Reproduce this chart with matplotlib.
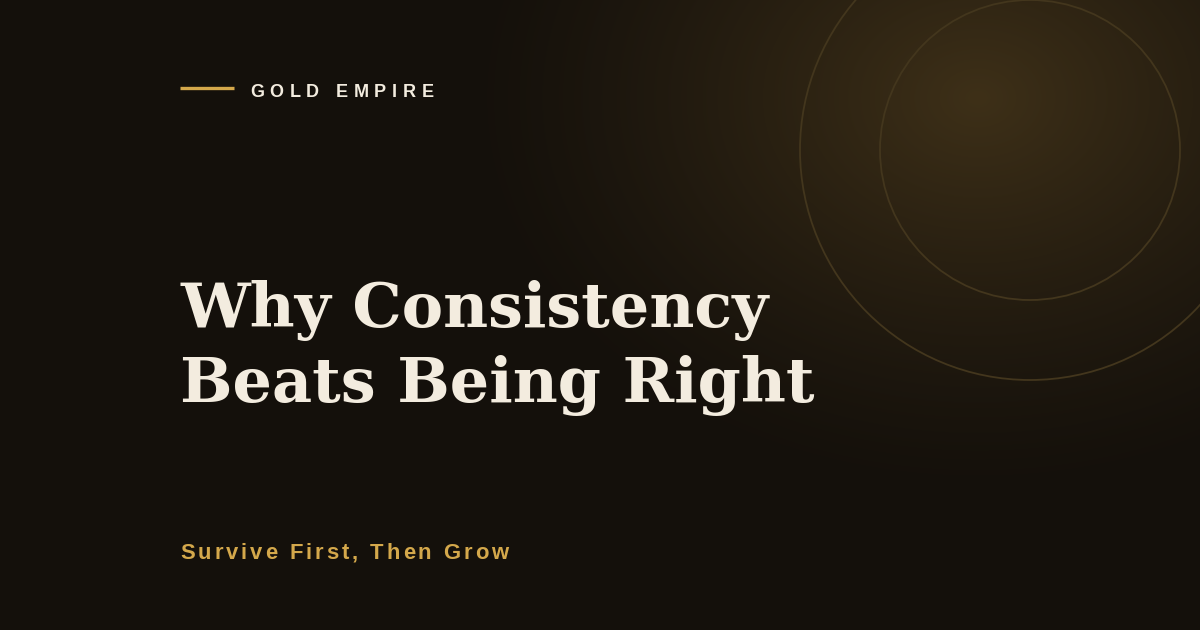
import numpy as np
import matplotlib
matplotlib.use("Agg")
import matplotlib.pyplot as plt
from matplotlib.patches import Circle

# ---- content ----
brand = "GOLD EMPIRE"
title_lines = ["Why Consistency", "Beats Being Right"]
subtitle = "Survive First, Then Grow"

# ---- style ----
W, H, DPI = 1200, 630, 100
BG = np.array([20, 16, 11]) / 255.0
GLOW = np.array([62, 48, 24]) / 255.0
GOLD = "#d4a84b"
CREAM = "#f3ecdf"
RING = "#43361d"

fig = plt.figure(figsize=(W / DPI, H / DPI), dpi=DPI)
ax = fig.add_axes([0, 0, 1, 1])
ax.set_xlim(0, W)
ax.set_ylim(H, 0)
ax.axis("off")

# background with elliptical radial glow
yy, xx = np.mgrid[0:H, 0:W] + 0.5
d = np.hypot((xx - 978) / 520.0, (yy - 98) / 400.0)
f = np.clip(1 - d, 0, 1) ** 1.3
img = BG[None, None, :] + f[..., None] * (GLOW - BG)[None, None, :]
ax.imshow(img, extent=(0, W, H, 0), interpolation="bilinear", zorder=0)

# rings
for r in (150, 230):
    ax.add_patch(Circle((1030, 150), r, fill=False, ec=RING, lw=1.3, zorder=1))

renderer = fig.canvas.get_renderer()


def text_w(s, **kw):
    t = ax.text(0, 0, s, **kw)
    w = t.get_window_extent(renderer).width
    t.remove()
    return w


def spaced(x, y, s, spacing, **kw):
    ref = text_w("l", **kw)
    for i, ch in enumerate(s):
        if ch == " ":
            continue
        off = text_w(s[:i] + "l", **kw) - ref if i > 0 else 0.0
        ax.text(x + off + i * spacing, y, ch, **kw)


# brand line + label
ax.plot([180, 234], [88, 88], color=GOLD, lw=2.4, solid_capstyle="butt", zorder=2)
spaced(250, 97, brand, 5.7, fontsize=18 * 0.72, fontweight="bold",
       family="Liberation Sans", color=CREAM, va="baseline", ha="left", zorder=3)

# title
for i, line in enumerate(title_lines):
    ax.text(180, 327 + i * 75, line, fontsize=62 * 0.72, fontweight="bold",
            family="DejaVu Serif", color=CREAM, va="baseline", ha="left", zorder=3)

# subtitle
spaced(180, 559, subtitle, 2.95, fontsize=22 * 0.72, fontweight="bold",
       family="Liberation Sans", color=GOLD, va="baseline", ha="left", zorder=3)

fig.savefig("out.png", dpi=DPI, facecolor=BG)
